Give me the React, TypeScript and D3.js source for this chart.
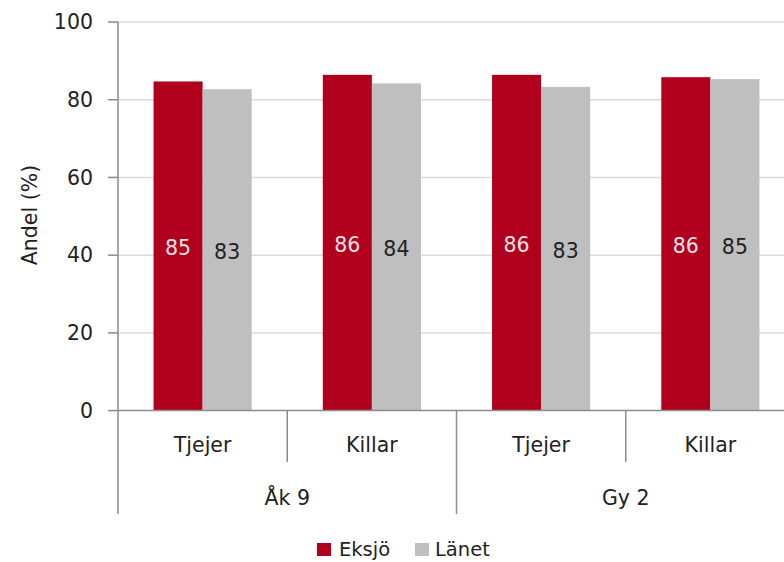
import React from "react";
import * as d3 from "d3";

const categories = ["Tjejer", "Killar", "Tjejer", "Killar"];
const groups = ["Åk 9", "Gy 2"];
const seriesNames = ["Eksjö", "Länet"];
const eksjo = [84.7, 86.4, 86.4, 85.8];
const lanet = [82.7, 84.2, 83.3, 85.3];
const eksjoLabels = ["85", "86", "86", "86"];
const lanetLabels = ["83", "84", "83", "85"];
const yTicks = [0, 20, 40, 60, 80, 100];
const colors = ["#B0001E", "#BFBFBF"];

export default function App() {
  const W = 784, H = 562;
  const left = 118, right = 795, top = 22, bottom = 410.6;
  const font = "'DejaVu Sans', sans-serif";
  const fs = 20.5;
  const y = d3.scaleLinear().domain([0, 100]).range([bottom, top]);
  const idx = categories.map((_, i) => String(i));
  const x = d3.scaleBand().domain(idx).range([left, right]).paddingInner(0.42).paddingOuter(0.21);
  const xs = d3.scaleBand().domain(seriesNames).range([0, x.bandwidth()]);
  const step = x.step();
  const series = [eksjo, lanet];
  const labels = [eksjoLabels, lanetLabels];
  const labelColors = ["#FBE3E6", "#222"];
  return (
    <div style={{ position: "fixed", left: 0, top: 0 }}>
      <svg width={W} height={H} style={{ display: "block", background: "#fff" }}>
        {yTicks.map((t) => (
          <g key={t}>
            {t > 0 && <line x1={left} x2={W} y1={y(t)} y2={y(t)} stroke="#DADADA" strokeWidth={1.5} />}
            <line x1={left - 10} x2={left} y1={y(t)} y2={y(t)} stroke="#8C8C8C" strokeWidth={1.5} />
            <text x={93} y={y(t)} dy="0.35em" textAnchor="end" fontFamily={font} fontSize={fs} fill="#222">{t}</text>
          </g>
        ))}
        {series.map((vals, s) =>
          vals.map((v, i) => (
            <rect key={`${s}-${i}`} x={(x(String(i)) as number) + (xs(seriesNames[s]) as number)} y={y(v)}
              width={xs.bandwidth()} height={bottom - y(v)} fill={colors[s]} />
          ))
        )}
        {series.map((vals, s) =>
          vals.map((v, i) => (
            <text key={`l${s}-${i}`} x={(x(String(i)) as number) + (xs(seriesNames[s]) as number) + xs.bandwidth() / 2}
              y={y(v / 2) + 2} dy="0.35em" textAnchor="middle" fontFamily={font} fontSize={fs} fill={labelColors[s]}>
              {labels[s][i]}
            </text>
          ))
        )}
        <line x1={left} x2={W} y1={bottom} y2={bottom} stroke="#8C8C8C" strokeWidth={1.5} />
        <line x1={left} x2={left} y1={top} y2={514} stroke="#8C8C8C" strokeWidth={1.5} />
        {idx.map((k, i) => {
          const xl = left + step * (i + 1);
          const long = i % 2 === 1;
          return (
            <g key={`c${k}`}>
              {i < idx.length - 1 && <line x1={xl} x2={xl} y1={bottom} y2={long ? 514 : 462} stroke="#8C8C8C" strokeWidth={1.5} />}
              <text x={(x(k) as number) + x.bandwidth() / 2} y={445} dy="0.35em" textAnchor="middle" fontFamily={font} fontSize={fs} fill="#222">{categories[i]}</text>
            </g>
          );
        })}
        {groups.map((g, gi) => (
          <text key={g} x={left + step * (gi * 2 + 1)} y={498} dy="0.35em" textAnchor="middle" fontFamily={font} fontSize={fs} fill="#222">{g}</text>
        ))}
        <text transform={`translate(30,215) rotate(-90)`} dy="0.35em" textAnchor="middle" fontFamily={font} fontSize={fs} fill="#222">Andel (%)</text>
        {seriesNames.map((n, s) => (
          <g key={n} transform={`translate(${s === 0 ? 317 : 415},543)`}>
            <rect width={14} height={13} fill={colors[s]} />
            <text x={s === 0 ? 22 : 20} y={6} dy="0.35em" fontFamily={font} fontSize={19.5} fill="#222">{n}</text>
          </g>
        ))}
      </svg>
    </div>
  );
}
